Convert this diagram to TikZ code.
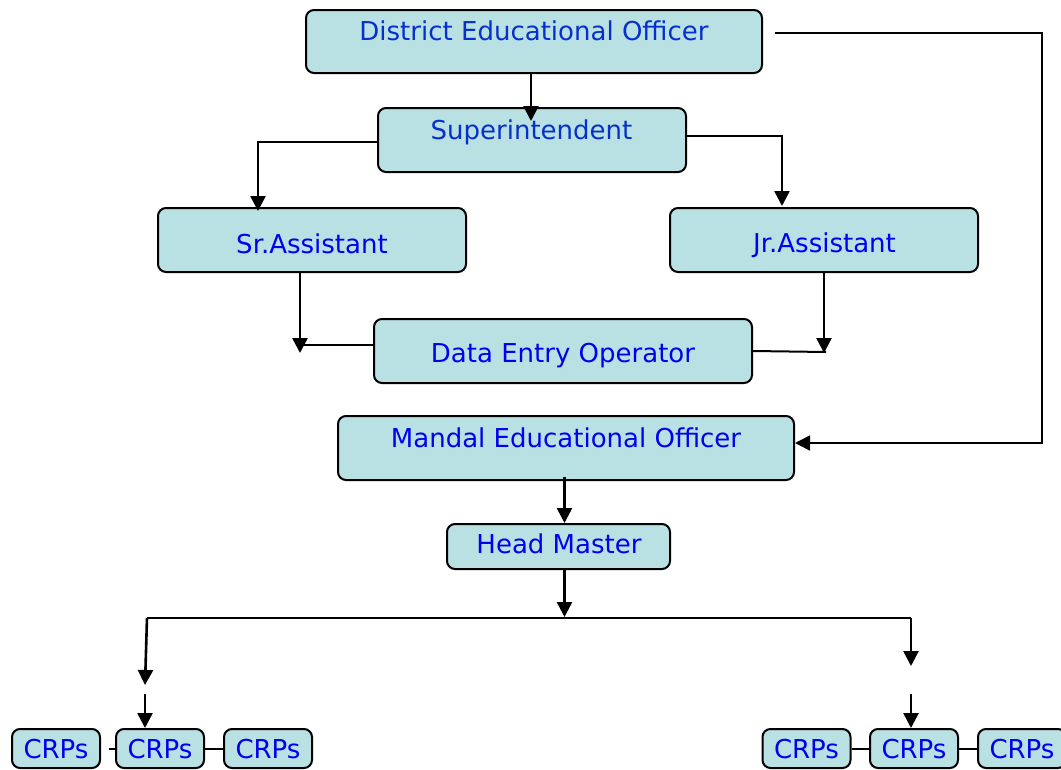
\documentclass[tikz,border=0pt]{standalone}
\usepackage{fontspec}
\setmainfont{DejaVu Sans}
\usetikzlibrary{arrows.meta,calc}
\definecolor{boxfill}{HTML}{B9E0E3}
\definecolor{txtblue}{HTML}{0000F0}
\definecolor{txtdark}{HTML}{0530CC}
\tikzset{
  box/.style={draw=black, line width=2pt, rounded corners=8pt, fill=boxfill, inner sep=0pt},
  lbl/.style={font=\fontsize{26}{30}\selectfont, anchor=base, text=txtblue, inner sep=0pt},
  lbldark/.style={lbl, text=txtdark},
  tip/.style={-{Triangle[length=15pt,width=15pt]}},
  arr/.style={line width=2.6pt, tip},
  ln/.style={line width=2pt},
  thin/.style={line width=1.6pt}
}
\begin{document}
\begin{tikzpicture}[x=1pt,y=-1pt]
\useasboundingbox (0,0) rectangle (1061,769);
% boxes
\node[box, minimum width=456pt, minimum height=63pt] (deo) at (534,41.5) {};
\node[box, minimum width=308pt, minimum height=64pt] (sup) at (532,140) {};
\node[box, minimum width=308pt, minimum height=64pt] (sr) at (312,240) {};
\node[box, minimum width=308pt, minimum height=64pt] (jr) at (824,240) {};
\node[box, minimum width=378pt, minimum height=64pt] (dat) at (563,351) {};
\node[box, minimum width=456pt, minimum height=64pt] (meo) at (566,448) {};
\node[box, minimum width=223pt, minimum height=45pt] (hm) at (558.5,546.5) {};
\node[box, minimum width=88pt, minimum height=39pt] (c1) at (56,748.5) {};
\node[box, minimum width=88pt, minimum height=39pt] (c2) at (160,748.5) {};
\node[box, minimum width=88pt, minimum height=39pt] (c3) at (268,748.5) {};
\node[box, minimum width=88pt, minimum height=39pt] (c4) at (806.5,748.5) {};
\node[box, minimum width=88pt, minimum height=39pt] (c5) at (914,748.5) {};
\node[box, minimum width=88pt, minimum height=39pt] (c6) at (1022,748.5) {};
% labels
\node[lbldark] (deoT) at (534,40) {District Educational Officer};
\node[lbldark] (supT) at (531.5,139) {Superintendent};
\node[lbl] (srT) at (312,253) {Sr.Assistant};
\node[lbl] (jrT) at (824.5,252) {Jr.Assistant};
\node[lbl] (datT) at (563,362) {Data Entry Operator};
\node[lbl] (meoT) at (566,447) {Mandal Educational Officer};
\node[lbl] (hmT) at (559,553) {Head Master};
\node[lbl] (c1T) at (56,758) {CRPs};
\node[lbl] (c2T) at (160,758) {CRPs};
\node[lbl] (c3T) at (268,758) {CRPs};
\node[lbl] (c4T) at (806.5,758) {CRPs};
\node[lbl] (c5T) at (914,758) {CRPs};
\node[lbl] (c6T) at (1022,758) {CRPs};
% free-end coordinates
\coordinate (srTip) at (300,353);
\coordinate (srJoin) at (300,345);
\coordinate (jrTip) at (824,353);
\coordinate (jrJoin) at (826,352);
\coordinate (rTop) at (1042,33);
\coordinate (rBot) at (1042,443);
\coordinate (barMid) at (564.5,617);
\coordinate (barL) at (147,618);
\coordinate (barR) at (911,618);
\coordinate (lTip) at (145,685);
\coordinate (lStart) at (145,694);
\coordinate (rTip) at (911,666);
\coordinate (rStart) at (911,694);
% connectors
\draw[arr] ([xshift=-3pt,yshift=2pt]deo.south) -- ([xshift=-1pt,yshift=-14pt]sup.north);
\draw[arr] ([yshift=-2pt]sup.west) -| ([xshift=-54pt,yshift=-4pt]sr.north);
\draw[arr] ([yshift=4pt]sup.east) -| ([xshift=-42pt,yshift=1pt]jr.north);
\draw[arr] ([xshift=-12pt]sr.south) -- (srTip);
\draw[ln] ([yshift=6pt]dat.west) -- (srJoin);
\draw[arr] (jr.south) -- (jrTip);
\draw[ln] (dat.east) -- (jrJoin);
\draw[thin, tip] ([xshift=12pt,yshift=8.5pt]deo.east) -- (rTop) -- (rBot) -- ([yshift=5pt]meo.east);
\draw[arr] ([xshift=-1.5pt,yshift=4pt]meo.south) -- ([xshift=6pt]hm.north);
\draw[arr] ([xshift=6pt]hm.south) -- (barMid);
\draw[ln] (barL) -- (barR);
\draw[arr] (barL) -- (lTip);
\draw[arr] (lStart) -- ([xshift=-15pt]c2.north);
\draw[arr] (barR) -- (rTip);
\draw[arr] (rStart) -- ([xshift=-3pt]c5.north);
\draw[ln] ([xshift=8pt]c1.east) -- (c2.west);
\draw[ln] (c2.east) -- (c3.west);
\draw[ln] (c4.east) -- (c5.west);
\draw[ln] (c5.east) -- (c6.west);
\end{tikzpicture}
\end{document}
